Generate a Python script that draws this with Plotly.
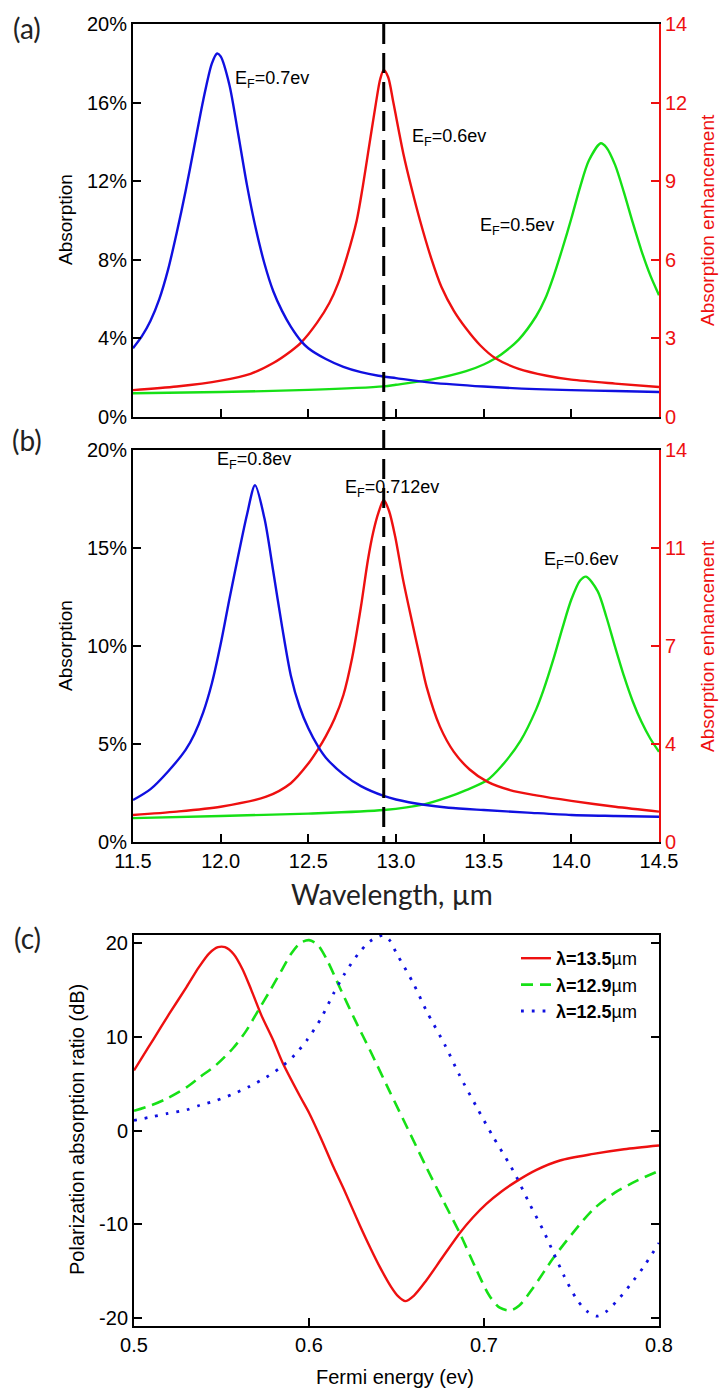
import plotly.graph_objects as go

# ---------------- data ----------------
# Panel (a): absorption (%) vs wavelength (um)
wl_a_blue = [11.5, 11.55, 11.6, 11.65, 11.7, 11.75, 11.8, 11.85, 11.9, 11.95, 11.98, 12.0, 12.05, 12.1,
             12.15, 12.2, 12.25, 12.3, 12.35, 12.4, 12.46, 12.5, 12.6, 12.7, 12.8, 12.9, 13.0, 13.2,
             13.5, 13.8, 14.0, 14.25, 14.5]
abs_a_blue = [3.5, 4.1, 4.9, 6.0, 7.5, 9.4, 11.5, 13.8, 16.1, 18.0, 18.5, 18.35, 16.9, 14.4,
              11.8, 9.6, 7.8, 6.4, 5.4, 4.6, 3.85, 3.5, 2.95, 2.55, 2.28, 2.1, 1.98, 1.75,
              1.55, 1.42, 1.37, 1.32, 1.27]

wl_a_red = [11.5, 11.75, 12.0, 12.17, 12.3, 12.4, 12.46, 12.55, 12.62, 12.67, 12.72, 12.776, 12.81,
            12.84, 12.886, 12.91, 12.93, 12.955, 12.985, 13.042, 13.09, 13.137, 13.2, 13.26, 13.33,
            13.4, 13.48, 13.565, 13.7, 13.86, 14.0, 14.25, 14.5]
abs_a_red = [1.37, 1.55, 1.85, 2.2, 2.75, 3.35, 3.8, 4.8, 5.8, 6.8, 8.15, 10.0, 11.7,
             13.4, 16.0, 17.2, 17.66, 17.3, 16.0, 13.4, 11.6, 10.0, 8.1, 6.6, 5.4,
             4.5, 3.65, 3.0, 2.45, 2.1, 1.9, 1.7, 1.53]

wl_a_green = [11.5, 12.0, 12.5, 12.93, 13.0, 13.2, 13.4, 13.5, 13.565, 13.6, 13.7, 13.8, 13.85, 13.9,
              13.95, 14.0, 14.05, 14.1, 14.168, 14.2, 14.25, 14.3, 14.35, 14.4, 14.45, 14.5]
abs_a_green = [1.21, 1.27, 1.38, 1.56, 1.64, 1.9, 2.33, 2.67, 2.98, 3.18, 3.94, 5.14, 6.0, 7.2,
               8.6, 10.1, 11.7, 13.05, 13.93, 13.72, 12.82, 11.43, 9.9, 8.46, 7.22, 6.2]

# Panel (b)
wl_b_blue = [11.5, 11.6, 11.7, 11.8, 11.85, 11.9, 11.95, 12.0, 12.05, 12.1, 12.15, 12.196, 12.25, 12.3,
             12.35, 12.4, 12.45, 12.5, 12.557, 12.6, 12.7, 12.8, 12.93, 13.0, 13.16, 13.3, 13.5,
             13.75, 14.0, 14.25, 14.5]
abs_b_blue = [2.14, 2.7, 3.6, 4.7, 5.5, 6.6, 8.1, 10.1, 12.4, 14.6, 16.7, 18.2, 16.5, 13.8,
              11.0, 8.5, 6.9, 5.8, 4.85, 4.3, 3.45, 2.85, 2.35, 2.17, 1.9, 1.75, 1.63,
              1.5, 1.38, 1.33, 1.29]

wl_b_red = [11.5, 11.75, 12.0, 12.26, 12.4, 12.5, 12.557, 12.6, 12.65, 12.7, 12.75, 12.8, 12.84, 12.87,
            12.9, 12.93, 12.96, 12.995, 13.04, 13.09, 13.137, 13.175, 13.25, 13.33, 13.42, 13.52,
            13.65, 13.8, 14.0, 14.25, 14.5]
abs_b_red = [1.38, 1.55, 1.8, 2.31, 3.0, 4.0, 4.75, 5.4, 6.3, 7.5, 9.4, 12.0, 14.4, 15.8,
             16.8, 17.45, 16.9, 15.6, 13.4, 11.3, 9.4, 7.9, 5.9, 4.6, 3.7, 3.08,
             2.65, 2.38, 2.1, 1.8, 1.55]

wl_b_green = [11.5, 12.0, 12.5, 12.93, 13.16, 13.3, 13.4, 13.52, 13.6, 13.71, 13.8, 13.84, 13.9, 13.95,
              14.0, 14.05, 14.084, 14.15, 14.2, 14.25, 14.3, 14.35, 14.4, 14.45, 14.5]
abs_b_green = [1.22, 1.33, 1.45, 1.63, 1.92, 2.3, 2.65, 3.15, 3.85, 5.16, 6.78, 7.72, 9.39, 10.94,
               12.37, 13.34, 13.54, 12.8, 11.48, 9.94, 8.47, 7.18, 6.13, 5.28, 4.6]

# Panel (c): polarization absorption ratio (dB) vs Fermi energy (eV)
ef_red = [0.5, 0.505, 0.511, 0.52, 0.53, 0.537, 0.543, 0.548, 0.552, 0.557, 0.562, 0.567, 0.573, 0.5796,
          0.585, 0.595, 0.6, 0.607, 0.614, 0.62, 0.629, 0.635, 0.6406, 0.647, 0.651, 0.655, 0.66, 0.667,
          0.676, 0.6863, 0.6935, 0.7015, 0.71, 0.7187, 0.73, 0.7434, 0.7625, 0.78, 0.8]
db_red = [6.4, 7.9, 9.7, 12.4, 15.3, 17.4, 18.9, 19.55, 19.55, 18.8, 17.2, 15.0, 12.2, 9.6,
          7.2, 3.6, 1.9, -0.9, -3.9, -6.3, -10.1, -12.5, -14.6, -16.7, -17.7, -18.2, -17.6, -16.0,
          -13.6, -10.9, -9.3, -7.8, -6.5, -5.4, -4.2, -3.2, -2.5, -2.0, -1.6]

ef_green = [0.5, 0.51, 0.5187, 0.53, 0.5377, 0.547, 0.5567, 0.564, 0.571, 0.578, 0.585, 0.59, 0.595,
            0.6, 0.605, 0.61, 0.6177, 0.626, 0.635, 0.646, 0.6577, 0.667, 0.6767, 0.6863, 0.6958,
            0.703, 0.709, 0.7149, 0.72, 0.728, 0.7396, 0.75, 0.7625, 0.775, 0.788, 0.8]
db_green = [2.1, 2.7, 3.4, 4.6, 5.7, 7.0, 8.8, 10.6, 12.8, 15.0, 17.3, 18.9, 20.0,
            20.3, 19.8, 18.3, 15.2, 11.9, 8.5, 4.2, -0.3, -3.9, -7.5, -11.0, -14.9,
            -17.6, -18.9, -19.2, -18.7, -16.8, -13.6, -11.1, -8.4, -6.6, -5.3, -4.3]

ef_blue = [0.5, 0.51, 0.5187, 0.53, 0.5377, 0.547, 0.5567, 0.566, 0.5758, 0.585, 0.592, 0.5987, 0.607,
           0.614, 0.62, 0.628, 0.635, 0.6423, 0.646, 0.65, 0.6596, 0.667, 0.6777, 0.686, 0.6958,
           0.705, 0.7149, 0.7187, 0.726, 0.734, 0.7396, 0.746, 0.753, 0.759, 0.7644, 0.77, 0.7777,
           0.785, 0.791, 0.8]
db_blue = [1.07, 1.45, 1.8, 2.2, 2.7, 3.2, 3.9, 4.7, 5.7, 6.9, 8.1, 9.6, 12.0,
           14.6, 16.6, 18.8, 20.2, 20.8, 20.3, 18.9, 15.7, 12.8, 9.1, 5.9, 2.5,
           -0.6, -3.7, -5.0, -7.8, -10.7, -13.0, -15.6, -18.0, -19.3, -19.8, -19.3, -17.8,
           -16.1, -14.6, -12.0]

# labels
labels_a = ["E<sub>F</sub>=0.7ev", "E<sub>F</sub>=0.6ev", "E<sub>F</sub>=0.5ev"]
labels_b = ["E<sub>F</sub>=0.8ev", "E<sub>F</sub>=0.712ev", "E<sub>F</sub>=0.6ev"]
legend_c = ["<b>λ=13.5</b>µm", "<b>λ=12.9</b>µm", "<b>λ=12.5</b>µm"]
ticks_a_left = [0, 4, 8, 12, 16, 20]
ticks_a_left_txt = ["0%", "4%", "8%", "12%", "16%", "20%"]
ticks_a_right_pos = [0, 3, 6, 9, 12, 15]
ticks_a_right_txt = ["0", "3", "6", "9", "12", "14"]
ticks_b_left = [0, 5, 10, 15, 20]
ticks_b_left_txt = ["0%", "5%", "10%", "15%", "20%"]
ticks_b_right_pos = [0, 3.5, 7, 10.5, 14]
ticks_b_right_txt = ["0", "4", "7", "11", "14"]
ticks_wl = [11.5, 12.0, 12.5, 13.0, 13.5, 14.0, 14.5]
ticks_wl_txt = ["11.5", "12.0", "12.5", "13.0", "13.5", "14.0", "14.5"]
ticks_ef = [0.5, 0.6, 0.7, 0.8]
ticks_ef_txt = ["0.5", "0.6", "0.7", "0.8"]
ticks_c_y = [-20, -10, 0, 10, 20]
ticks_c_y_txt = ["-20", "-10", "0", "10", "20"]
marker_wl = 12.93

# ---------------- style ----------------
W, H = 727, 1398
BLUE = "#1010e0"
RED = "#ee1010"
GREEN = "#16e016"
ARIAL = "Liberation Sans"
CAL = "Lato"

def px_x(p):
    return p / W

def px_y(p):
    return 1 - p / H

XD = [px_x(133), px_x(659)]
XDC = [px_x(134), px_x(659)]
YA = [px_y(417), px_y(24)]
YB = [px_y(842), px_y(450)]
YC = [px_y(1326), px_y(935)]

fig = go.Figure()

def line(x, y, color, xa, ya, width=2.4, dash=None, name=None, showlegend=False):
    fig.add_trace(go.Scatter(x=x, y=y, mode="lines", xaxis=xa, yaxis=ya,
                             line=dict(color=color, width=width, dash=dash, shape="spline", smoothing=0.8),
                             name=name, showlegend=showlegend, hoverinfo="skip"))

line(wl_a_green, abs_a_green, GREEN, "x", "y")
line(wl_a_red, abs_a_red, RED, "x", "y")
line(wl_a_blue, abs_a_blue, BLUE, "x", "y")
line(wl_b_green, abs_b_green, GREEN, "x2", "y3")
line(wl_b_red, abs_b_red, RED, "x2", "y3")
line(wl_b_blue, abs_b_blue, BLUE, "x2", "y3")
# dummy traces so right axes render
fig.add_trace(go.Scatter(x=[None], y=[None], xaxis="x", yaxis="y2", showlegend=False, hoverinfo="skip"))
fig.add_trace(go.Scatter(x=[None], y=[None], xaxis="x2", yaxis="y4", showlegend=False, hoverinfo="skip"))

line(ef_red, db_red, RED, "x3", "y5", width=2.4, name=legend_c[0], showlegend=True)
line(ef_green, db_green, GREEN, "x3", "y5", width=2.6, dash="12px,7px", name=legend_c[1], showlegend=True)
line(ef_blue, db_blue, BLUE, "x3", "y5", width=2.8, dash="2.8px,8px", name=legend_c[2], showlegend=True)

tickfont = dict(family=ARIAL, size=20, color="black")
redfont = dict(family=ARIAL, size=20, color=RED)

def ax(**kw):
    d = dict(showgrid=False, zeroline=False, showline=True, linewidth=2, ticks="inside",
             ticklen=8, tickwidth=2, tickmode="array", tickfont=tickfont,
             linecolor="black", tickcolor="black")
    d.update(kw)
    return d

fig.update_layout(
    template="none",
    font=dict(family=ARIAL, size=19, color="black"),
    width=W, height=H, margin=dict(l=0, r=0, t=0, b=0, pad=0, autoexpand=False),
    paper_bgcolor="white", plot_bgcolor="white",
    xaxis=ax(domain=XD, anchor="y", range=[11.5, 14.5], tickvals=ticks_wl[1:-1],
             showticklabels=False, mirror=True),
    yaxis=ax(domain=YA, anchor="x", range=[0, 20], tickvals=ticks_a_left, ticktext=ticks_a_left_txt),
    yaxis2=ax(overlaying="y", anchor="x", side="right", range=[0, 15], tickvals=ticks_a_right_pos,
              ticktext=ticks_a_right_txt, linecolor=RED, tickcolor=RED, tickfont=redfont),
    xaxis2=ax(domain=XD, anchor="y3", range=[11.5, 14.5], tickvals=ticks_wl, ticktext=ticks_wl_txt,
              mirror=True),
    yaxis3=ax(domain=YB, anchor="x2", range=[0, 20], tickvals=ticks_b_left, ticktext=ticks_b_left_txt),
    yaxis4=ax(overlaying="y3", anchor="x2", side="right", range=[0, 14], tickvals=ticks_b_right_pos,
              ticktext=ticks_b_right_txt, linecolor=RED, tickcolor=RED, tickfont=redfont),
    xaxis3=ax(domain=XDC, anchor="y5", range=[0.5, 0.8], tickvals=ticks_ef, ticktext=ticks_ef_txt,
              mirror=True),
    yaxis5=ax(domain=YC, anchor="x3", range=[-20.85, 20.85], tickvals=ticks_c_y, ticktext=ticks_c_y_txt,
              mirror="ticks"),
    legend=dict(x=px_x(516), y=px_y(940), xanchor="left", yanchor="top", bgcolor="rgba(0,0,0,0)",
                font=dict(family=ARIAL, size=18, color="black"), tracegroupgap=0),
    showlegend=True,
)

# vertical dashed marker through (a) and (b)
fig.add_shape(type="line", xref="x", yref="paper", x0=marker_wl, x1=marker_wl,
              y0=px_y(24), y1=px_y(842), line=dict(color="black", width=3, dash="20px,9px"), layer="above")

ann = []
def text(x, y, s, size=18, color="black", family=ARIAL, angle=0, xanchor="center"):
    ann.append(dict(x=px_x(x), y=px_y(y), xref="paper", yref="paper", text=s, showarrow=False,
                    textangle=angle, xanchor=xanchor, yanchor="middle",
                    font=dict(family=family, size=size, color=color)))

# panel labels
text(27, 28, "(a)", size=28, family=CAL, color="#222")
text(27, 440, "(b)", size=28, family=CAL, color="#222")
text(27, 938, "(c)", size=28, family=CAL, color="#222")
# curve labels
text(233, 80, labels_a[0], xanchor="left")
text(410, 137, labels_a[1], xanchor="left")
text(478, 226, labels_a[2], xanchor="left")
text(215, 460, labels_b[0], xanchor="left")
text(343, 488, labels_b[1], xanchor="left")
text(542, 560, labels_b[2], xanchor="left")
# axis titles
text(65, 220, "Absorption", size=19, angle=-90)
text(707, 220, "Absorption enhancement", size=19, color=RED, angle=-90)
text(65, 646, "Absorption", size=19, angle=-90)
text(707, 646, "Absorption enhancement", size=19, color=RED, angle=-90)
text(392, 894, "Wavelength, µm", size=28, family=CAL, color="#222")
text(77, 1130, "Polarization absorption ratio (dB)", size=20, angle=-90)
text(395, 1377, "Fermi energy (ev)", size=20)

fig.update_layout(annotations=ann)
fig.write_html("out.html", config={"displayModeBar": False},
               post_script="document.body.style.margin='0px';")
